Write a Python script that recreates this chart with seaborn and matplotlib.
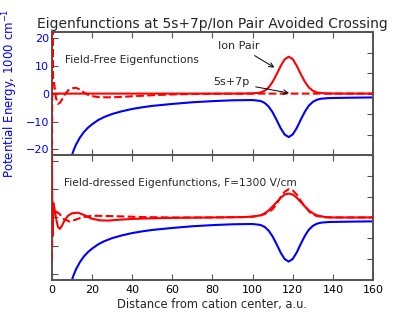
import numpy as np
import pandas as pd
import matplotlib
matplotlib.use("Agg")
import matplotlib.pyplot as plt
import seaborn as sns

# potential energy (1000 cm^-1) vs distance (a.u.)
pot_x = [8, 9, 10, 11, 12, 14, 16, 18, 20, 23, 26, 30, 35, 40, 45, 50, 60, 70, 80, 90,
         100, 104, 106, 108, 110, 112, 114, 116, 118, 120, 122, 124, 126, 128, 130, 132,
         134, 138, 145, 152, 160]
pot_y = [-27.4, -24.4, -22.0, -20.0, -18.3, -15.7, -13.7, -12.2, -11.0, -9.5, -8.4, -7.3,
         -6.3, -5.5, -4.9, -4.4, -3.7, -3.1, -2.7, -2.4,
         -2.3, -2.65, -3.34, -4.65, -6.75, -9.52, -12.45, -14.7, -15.56, -14.6, -12.3, -9.3,
         -6.5, -4.3, -2.96, -2.2, -1.84, -1.6, -1.51, -1.44, -1.37]

# field-free: ion pair (solid) and 5s+7p (dashed)
ff_ion_x = [0, 80, 94, 100, 104, 106, 108, 110, 112, 114, 116, 118, 120, 122, 124, 126,
            128, 130, 132, 136, 142, 160]
ff_ion_y = [0.0, 0.0, 0.0, 0.01, 0.055, 0.14, 0.30, 0.58, 0.95, 1.35, 1.68, 1.80, 1.68,
            1.35, 0.95, 0.58, 0.30, 0.14, 0.055, 0.01, 0.0, 0.0]
ff_5s_x = [0, 0.3, 0.6, 1.0, 1.5, 2, 3, 4, 5, 6, 8, 10, 12, 14, 16, 18, 20, 23, 26, 30,
           35, 40, 50, 60, 70, 80, 100, 160]
ff_5s_y = [-3.6, 3.6, 0.75, 0.6, 0.2, -0.2, -0.5, -0.45, -0.3, -0.1, 0.15, 0.26, 0.28,
           0.2, 0.05, -0.06, -0.12, -0.17, -0.18, -0.18, -0.16, -0.13, -0.08, -0.04, -0.02,
           -0.01, 0.0, 0.0]

# field-dressed (F = 1300 V/cm)
fd_a_x = [0, 0.3, 0.7, 1.2, 2, 3, 4, 5, 6, 8, 10, 13, 16, 18, 20, 24, 28, 32, 40, 50, 60,
          80, 96, 100, 104, 106, 108, 110, 112, 114, 116, 118, 120, 122, 124, 126, 128,
          130, 132, 136, 140, 160]
fd_a_y = [2.9, -0.9, 0.7, 0.5, 0.0, -0.45, -0.55, -0.4, -0.2, 0.08, 0.2, 0.23, 0.12,
          0.02, -0.06, -0.14, -0.15, -0.12, -0.07, -0.04, -0.02, 0.0, 0.02, 0.04, 0.105,
          0.2, 0.34, 0.53, 0.74, 0.95, 1.1, 1.15, 1.1, 0.95, 0.74, 0.53, 0.34, 0.2, 0.105,
          0.02, 0.0, 0.0]
fd_b_x = [0, 0.4, 1, 2.3, 4, 6, 9, 12, 15, 19, 22, 28, 35, 45, 60, 80, 96, 100, 104, 106,
          107, 108, 110, 112, 114, 116, 118, 120, 122, 124, 126, 127, 128, 130, 132, 136,
          140, 160]
fd_b_y = [-2.0, 0.3, 0.1, 0.28, 0.15, -0.08, -0.2, -0.1, 0.0, 0.07, 0.08, 0.07, 0.05,
          0.02, 0.0, 0.0, 0.02, 0.04, 0.1, 0.16, 0.24, 0.26, 0.4, 0.66, 0.98, 1.24, 1.36,
          1.3, 1.1, 0.8, 0.52, 0.44, 0.3, 0.14, 0.07, 0.01, 0.0, 0.0]

x_ticks = [0, 20, 40, 60, 80, 100, 120, 140, 160]
left_ticks = [-20, -10, 0, 10, 20]

sns.set_style("white")
spine_col = "#555555"
plt.rcParams["font.family"] = ["DejaVu Sans"]
plt.rcParams["xtick.direction"] = "in"
plt.rcParams["ytick.direction"] = "in"

fig = plt.figure(figsize=(4.15, 3.12), dpi=100)
ax_top = fig.add_axes([0.125, 0.503, 0.774, 0.394])
ax_bot = fig.add_axes([0.125, 0.103, 0.774, 0.400], sharex=ax_top)

panels = []
for ax in (ax_top, ax_bot):
    sns.lineplot(x=pot_x, y=pot_y, ax=ax, color="#0000ff", lw=1.5, estimator=None)
    ax.set_ylim(-22, 22)
    ax.set_yticks(left_ticks)
    ax.set_xlim(0, 160)
    ax.set_xticks(x_ticks)
    ax.tick_params(axis="y", colors=spine_col, labelcolor="#0000ff", labelsize=8,
                   length=4, width=0.8, right=False, pad=2)
    ax.tick_params(axis="x", colors=spine_col, labelcolor="black", labelsize=8,
                   length=4, width=0.8, top=True, bottom=True)
    for s in ax.spines.values():
        s.set_color(spine_col)
        s.set_linewidth(1.3)
    tw = ax.twinx()
    tw.set_ylim(-3, 3)
    tw.set_yticks([-3, -2, -1, 0, 1, 2, 3])
    tw.tick_params(axis="y", colors=spine_col, labelright=False, length=4, width=0.8)
    for s in tw.spines.values():
        s.set_color(spine_col)
        s.set_linewidth(1.3)
    panels.append(tw)

tw_top, tw_bot = panels

red = dict(color="#ff0000", lw=1.5, estimator=None, zorder=3)
sns.lineplot(x=ff_ion_x, y=ff_ion_y, ax=tw_top, **red)
sns.lineplot(x=ff_5s_x, y=ff_5s_y, ax=tw_top, linestyle="--", dashes=(4, 2.5), **red)
sns.lineplot(x=fd_a_x, y=fd_a_y, ax=tw_bot, **red)
sns.lineplot(x=fd_b_x, y=fd_b_y, ax=tw_bot, linestyle="--", dashes=(4, 2.5), **red)

plt.setp(ax_top.get_xticklabels(), visible=False)
ax_bot.tick_params(axis="y", labelleft=False)
ax_top.set_xlabel("")
ax_bot.set_xlabel("Distance from cation center, a.u.", fontsize=8.3, labelpad=2)

ax_top.set_title("Eigenfunctions at 5s+7p/Ion Pair Avoided Crossing", fontsize=10, pad=3)
ax_top.set_ylabel("Potential Energy, 1000 cm$^{-1}$", color="#0000ff", fontsize=8.5)
ax_top.yaxis.set_label_coords(-0.1, 0.5)
tw_top.set_ylabel("Amplitude", color="#ff0000", fontsize=8.3)
tw_top.yaxis.set_label_coords(1.04, 0.5)

tw_top.text(6.5, 1.65, "Field-Free Eigenfunctions", fontsize=7.7, va="center", ha="left")
tw_bot.text(6, 1.65, "Field-dressed Eigenfunctions, F=1300 V/cm", fontsize=7.7,
            va="center", ha="left")
arrow = dict(arrowstyle="->", color="black", lw=0.7)
tw_top.annotate("Ion Pair", xy=(112, 1.2), xytext=(93, 2.33), fontsize=8,
                ha="center", va="center", arrowprops=arrow)
tw_top.annotate("5s+7p", xy=(119.5, 0.0), xytext=(89.5, 0.55), fontsize=8,
                ha="center", va="center", arrowprops=arrow)

fig.savefig("out.png", dpi=100)
